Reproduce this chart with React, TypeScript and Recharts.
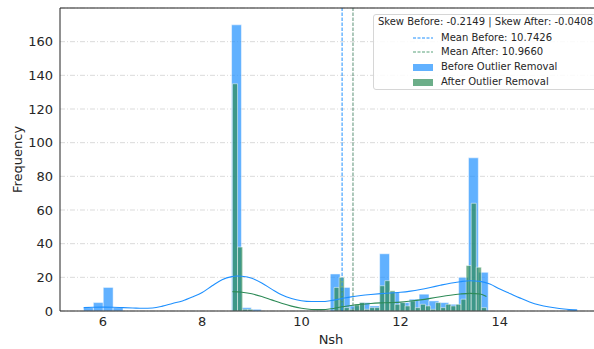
import {
  ComposedChart,
  Line,
  XAxis,
  YAxis,
  CartesianGrid,
  ReferenceArea,
  ReferenceLine,
  Legend,
} from "recharts";

const FONT = "DejaVu Sans, Verdana, sans-serif";
const INK = "#262626";

// histogram bins (50 each)
const BLUE_START = 5.607;
const BLUE_BIN = 0.199;
const BLUE_COUNTS = [
  2, 5, 14, 2, 0, 0, 0, 0, 0, 0, 0, 0, 0, 0, 0, 170, 2, 1, 0, 0, 0, 0, 0, 0, 0,
  22, 14, 3, 5, 3, 34, 11, 5, 7, 10, 6, 5, 4, 20, 91, 23, 0, 0, 0, 0, 0, 0, 0, 0, 1,
];

const GREEN_START = 8.61;
const GREEN_BIN = 0.1024;
const GREEN_COUNTS = [
  135, 38, 1, 1, 0, 0, 0, 0, 0, 0, 0, 0, 0, 0, 0, 0, 0, 0, 0, 0, 14, 20, 2, 1, 4,
  5, 1, 2, 2, 15, 18, 12, 4, 5, 3, 6, 2, 4, 3, 1, 5, 2, 4, 3, 4, 7, 27, 64, 26, 2,
];

// kde curves (in count units)
const BLUE_KDE_X = [
  5.61, 5.8, 6.0, 6.2, 6.4, 6.6, 6.8, 7.0, 7.2, 7.4, 7.6, 7.8, 8.0, 8.2, 8.4, 8.6,
  8.7, 8.8, 9.0, 9.2, 9.4, 9.6, 9.8, 10.0, 10.2, 10.4, 10.6, 10.8, 11.0, 11.2, 11.4,
  11.6, 11.8, 12.0, 12.2, 12.4, 12.6, 12.8, 13.0, 13.2, 13.4, 13.6, 13.8, 14.0,
  14.2, 14.4, 14.6, 14.8, 15.0, 15.2, 15.4, 15.56,
];
const BLUE_KDE_Y = [
  2.0, 2.2, 2.3, 2.2, 2.0, 1.8, 1.6, 1.8, 2.9, 4.5, 6.0, 8.3, 11.0, 15.0, 18.6,
  20.4, 20.8, 20.6, 19.4, 16.6, 13.0, 9.6, 7.4, 6.1, 5.6, 5.6, 6.2, 7.3, 8.4, 9.2,
  9.8, 10.3, 10.7, 11.1, 11.8, 12.8, 14.0, 15.3, 16.5, 17.4, 18.0, 17.6, 16.0, 13.0,
  10.4, 7.8, 5.4, 3.6, 2.4, 1.5, 0.9, 0.6,
];

const GREEN_KDE_X = [
  8.61, 8.8, 9.0, 9.2, 9.4, 9.6, 9.8, 10.0, 10.2, 10.4, 10.6, 10.8, 11.0, 11.2,
  11.4, 11.6, 11.8, 12.0, 12.2, 12.4, 12.6, 12.8, 13.0, 13.2, 13.4, 13.6, 13.73,
];
const GREEN_KDE_Y = [
  11.5, 11.1, 10.2, 8.6, 6.6, 4.6, 2.9, 1.6, 0.9, 0.8, 1.3, 2.4, 3.3, 4.0, 4.5, 4.8,
  5.0, 5.3, 5.9, 6.6, 7.5, 8.5, 9.4, 10.1, 10.5, 10.1, 8.6,
];

const MEAN_BEFORE = 10.82;
const MEAN_AFTER = 11.04;
const MEAN_BEFORE_LABEL = "10.7426";
const MEAN_AFTER_LABEL = "10.9660";
const SKEW_BEFORE = "-0.2149";
const SKEW_AFTER = "-0.0408";

const X_TICKS = [6, 8, 10, 12, 14];
const Y_TICKS = [0, 20, 40, 60, 80, 100, 120, 140, 160];

const BLUE = "#1e90ff";
const GREEN = "#2e8b57";

const blueKde = BLUE_KDE_X.map((x, i) => ({ x, y: BLUE_KDE_Y[i] }));
const greenKde = GREEN_KDE_X.map((x, i) => ({ x, y: GREEN_KDE_Y[i] }));

function bins(start: number, w: number, counts: number[]) {
  return counts
    .map((c, i) => ({ x1: start + i * w, x2: start + (i + 1) * w, c }))
    .filter((b) => b.c > 0);
}

function LegendBox() {
  const row = (top: number, swatch: any, text: string) => (
    <div
      style={{
        position: "absolute",
        top,
        left: 0,
        height: 12,
        display: "flex",
        alignItems: "center",
        whiteSpace: "nowrap",
      }}
    >
      <svg width={20} height={12} style={{ marginLeft: 39, marginRight: 8 }}>
        {swatch}
      </svg>
      <span>{text}</span>
    </div>
  );
  return (
    <div
      style={{
        position: "relative",
        width: 225,
        height: 76,
        boxSizing: "border-box",
        border: "1px solid #d6d6d6",
        borderRadius: 3,
        background: "rgba(255,255,255,0.85)",
        fontFamily: FONT,
        fontSize: 10,
        color: INK,
        lineHeight: "12px",
      }}
    >
      <div
        style={{
          position: "absolute",
          top: 1,
          left: 0,
          width: "100%",
          textAlign: "center",
          whiteSpace: "nowrap",
        }}
      >
        {`Skew Before: ${SKEW_BEFORE} | Skew After: ${SKEW_AFTER}`}
      </div>
      {row(
        17,
        <line x1={0} y1={6} x2={20} y2={6} stroke={BLUE} strokeWidth={1} strokeDasharray="3 1.5" />,
        `Mean Before: ${MEAN_BEFORE_LABEL}`
      )}
      {row(
        31,
        <line x1={0} y1={6} x2={20} y2={6} stroke={GREEN} strokeOpacity={0.8} strokeWidth={1} strokeDasharray="3 1.5" />,
        `Mean After: ${MEAN_AFTER_LABEL}`
      )}
      {row(
        46,
        <rect x={0} y={3} width={20} height={7} fill={BLUE} fillOpacity={0.7} />,
        "Before Outlier Removal"
      )}
      {row(
        61,
        <rect x={0} y={3} width={20} height={7} fill={GREEN} fillOpacity={0.7} />,
        "After Outlier Removal"
      )}
    </div>
  );
}

export default function App() {
  const tick = { fill: INK, fontSize: 13, fontFamily: FONT };
  return (
    <div
      style={{
        position: "absolute",
        left: 0,
        top: 0,
        width: 594,
        height: 349,
        overflow: "hidden",
        background: "#fff",
      }}
    >
      <ComposedChart
        width={620}
        height={349}
        margin={{ top: 8, right: 18, bottom: 0, left: 0 }}
      >
        <CartesianGrid
          vertical={false}
          stroke="#d2d2d2"
          strokeWidth={0.8}
          strokeDasharray="5 2 1 2"
        />
        <XAxis
          type="number"
          dataKey="x"
          domain={[5.133, 16.06]}
          ticks={X_TICKS}
          allowDataOverflow
          height={38}
          tick={tick}
          tickLine={false}
          tickSize={5}
          tickMargin={1}
          axisLine={{ stroke: "#222", strokeWidth: 1 }}
          label={{
            content: ({ viewBox }: any) => (
              <text
                x={viewBox.x + viewBox.width / 2}
                y={344}
                textAnchor="middle"
                fill={INK}
                fontSize={13}
                fontFamily={FONT}
              >
                Nsh
              </text>
            ),
          }}
        />
        <YAxis
          type="number"
          domain={[0, 180]}
          ticks={Y_TICKS}
          width={60}
          tick={tick}
          tickLine={false}
          tickSize={6}
          tickMargin={1}
          axisLine={{ stroke: "#222", strokeWidth: 1 }}
          label={{
            content: ({ viewBox }: any) => {
              const cy = viewBox.y + viewBox.height / 2;
              return (
                <text
                  x={22}
                  y={cy}
                  transform={`rotate(-90, 22, ${cy})`}
                  textAnchor="middle"
                  fill={INK}
                  fontSize={13}
                  fontFamily={FONT}
                >
                  Frequency
                </text>
              );
            },
          }}
        />
        {bins(BLUE_START, BLUE_BIN, BLUE_COUNTS).map((b, i) => (
          <ReferenceArea
            key={"b" + i}
            x1={b.x1}
            x2={b.x2}
            y1={0}
            y2={b.c}
            fill={BLUE}
            fillOpacity={0.7}
            stroke="#fff"
            strokeOpacity={0.7}
            strokeWidth={0.7}
          />
        ))}
        {bins(GREEN_START, GREEN_BIN, GREEN_COUNTS).map((b, i) => (
          <ReferenceArea
            key={"g" + i}
            x1={b.x1}
            x2={b.x2}
            y1={0}
            y2={b.c}
            fill={GREEN}
            fillOpacity={0.7}
            stroke="#fff"
            strokeOpacity={0.7}
            strokeWidth={0.7}
          />
        ))}
        <Line
          data={blueKde}
          dataKey="y"
          type="monotone"
          stroke={BLUE}
          strokeWidth={1.1}
          dot={false}
          isAnimationActive={false}
        />
        <Line
          data={greenKde}
          dataKey="y"
          type="monotone"
          stroke={GREEN}
          strokeWidth={1.1}
          dot={false}
          isAnimationActive={false}
        />
        <ReferenceLine
          x={MEAN_BEFORE}
          stroke={BLUE}
          strokeWidth={1}
          strokeDasharray="3.5 1.5"
        />
        <ReferenceLine
          x={MEAN_AFTER}
          stroke="#3f7f5f"
          strokeOpacity={0.85}
          strokeWidth={1}
          strokeDasharray="3.5 1.5"
        />
        <ReferenceLine y={180} stroke="#222" strokeWidth={1} />
        <Legend
          layout="vertical"
          align="center"
          verticalAlign="middle"
          wrapperStyle={{ left: 373, top: 14, width: 225 }}
          content={() => <LegendBox />}
        />
      </ComposedChart>
    </div>
  );
}
